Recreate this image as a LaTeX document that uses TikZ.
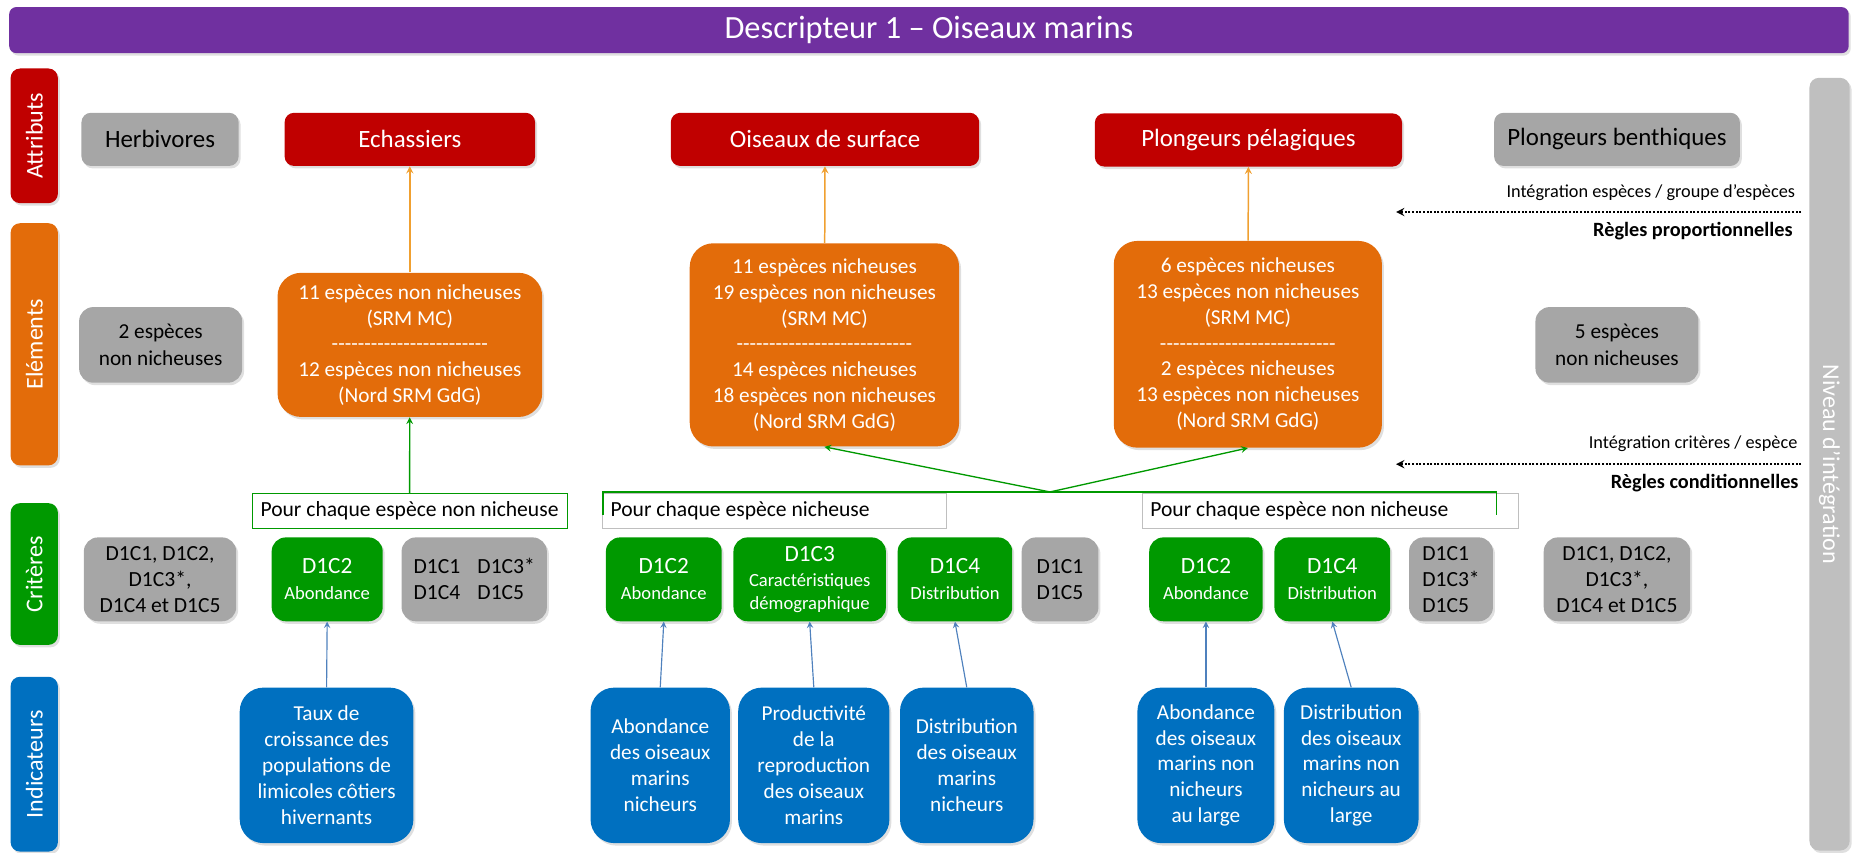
\documentclass[tikz,border=0pt]{standalone}
\usepackage{fontspec}
\setmainfont{Carlito}[Ligatures=TeXOff]
\usetikzlibrary{arrows, shadows}

\definecolor{titlepurple}{HTML}{7030A0}
\definecolor{attrred}{HTML}{C00000}
\definecolor{elemorange}{HTML}{E36C0A}
\definecolor{critgreen}{HTML}{009900}
\definecolor{indicblue}{HTML}{0070C0}
\definecolor{boxgray}{HTML}{A6A6A6}
\definecolor{bargray}{HTML}{BFBFBF}
\definecolor{linkorange}{HTML}{F0A030}
\definecolor{linkblue}{HTML}{4F81BD}

\newcommand{\subcrit}{\fontsize{11.2}{13.5}\selectfont}

\tikzstyle{shadowed} = [drop shadow={opacity=0.25, shadow xshift=1.2pt, shadow yshift=-1.5pt}]
\tikzstyle{rowlabel} = [rectangle, rounded corners=0.2cm, rotate=90, minimum height=1cm, text=white, font=\fontsize{14.5}{17}\selectfont, shadowed]
\tikzstyle{attribute} = [rectangle, rounded corners=0.2cm, minimum height=1.125cm, text centered, draw=none, fill=attrred, text=white, font=\fontsize{15}{18}\selectfont, shadowed]
\tikzstyle{attrgray} = [attribute, fill=boxgray, text=black]
\tikzstyle{element} = [rectangle, rounded corners=0.5cm, align=center, fill=elemorange, text=white, font=\fontsize{12.8}{15.5}\selectfont, shadowed]
\tikzstyle{elemgray} = [rectangle, rounded corners=0.3cm, align=center, minimum width=3.45cm, minimum height=1.6cm, fill=boxgray, text=black, font=\fontsize{12.8}{15.8}\selectfont, shadowed]
\tikzstyle{foreach} = [rectangle, draw=bargray, fill=white, minimum height=0.725cm, inner xsep=5pt, inner ysep=0pt, font=\fontsize{13}{15}\selectfont]
\tikzstyle{criterion} = [rectangle, rounded corners=0.3cm, align=center, minimum height=1.775cm, fill=critgreen, text=white, font=\fontsize{14}{15.6}\selectfont, shadowed]
\tikzstyle{critgray} = [criterion, fill=boxgray, text=black, font=\fontsize{13}{15.6}\selectfont]
\tikzstyle{indicator} = [rectangle, rounded corners=0.5cm, align=center, minimum height=3.29cm, fill=indicblue, text=white, font=\fontsize{12.8}{15.6}\selectfont, shadowed]
\tikzstyle{sidelabel} = [anchor=east, inner sep=0pt, font=\fontsize{11}{13}\selectfont]
\tikzstyle{rulelabel} = [anchor=east, inner sep=0pt, font=\fontsize{12.2}{14}\selectfont\bfseries]
\tikzstyle{orangearrow} = [draw=linkorange, line width=0.9pt, ->, >=stealth]
\tikzstyle{greenline} = [draw=critgreen, line width=0.8pt]
\tikzstyle{greenarrow} = [greenline, ->, >=stealth]
\tikzstyle{bluearrow} = [draw=linkblue, line width=0.7pt, ->, >=stealth]
\tikzstyle{dotarrow} = [densely dotted, line width=1.2pt, ->, >=stealth]

\begin{document}
\begin{tikzpicture}[x=0.025cm, y=-0.025cm]
        \useasboundingbox (0,0) rectangle (1568,722);

        \node (title) [rectangle, rounded corners=0.15cm, fill=titlepurple, text=white, minimum width=38.925cm, minimum height=0.975cm, font=\fontsize{19.5}{22}\selectfont, shadowed] at (786.5,25.5) {Descripteur 1 – Oiseaux marins};

        \node (rowAttr) [rowlabel, fill=attrred, minimum width=2.85cm] at (29,115) {Attributs};
        \node (rowElem) [rowlabel, fill=elemorange, minimum width=5.125cm] at (29,291.5) {Eléments};
        \node (rowCrit) [rowlabel, fill=critgreen, minimum width=3cm] at (29,486) {Critères};
        \node (rowIndic) [rowlabel, fill=indicblue, minimum width=3.7cm] at (29,647) {Indicateurs};
        \node (level) [rowlabel, rotate=180, fill=bargray, minimum width=16.35cm, minimum height=0.85cm, drop shadow={opacity=0}] at (1549,393) {Niveau d’intégration};

        % attributs
        \node (herb) [attrgray, minimum width=3.325cm] at (135.5,118) {Herbivores};
        \node (echass) [attribute, minimum width=5.3cm] at (347,118) {Echassiers};
        \node (surf) [attribute, minimum width=6.525cm] at (698.5,118) {Oiseaux de surface};
        \node (pelag) [attribute, minimum width=6.5cm] at (1057,118.5) {Plongeurs pélagiques};
        \node (benth) [attrgray, minimum width=5.2cm] at (1369,118) {Plongeurs benthiques};

        % elements
        \node (elHerb) [elemgray] at (136,292) {2 espèces\\non nicheuses};
        \node (elEch) [element, minimum width=5.6cm, minimum height=3.05cm] at (347,292) {11 espèces non nicheuses\\(SRM MC)\\------------------------\\12 espèces non nicheuses\\(Nord SRM GdG)};
        \node (elSurf) [element, minimum width=5.7cm, minimum height=4.3cm] at (698,292) {11 espèces nicheuses\\19 espèces non nicheuses\\(SRM MC)\\---------------------------\\14 espèces nicheuses\\18 espèces non nicheuses\\(Nord SRM GdG)};
        \node (elPel) [element, minimum width=5.675cm, minimum height=4.375cm] at (1056.5,291.5) {6 espèces nicheuses\\13 espèces non nicheuses\\(SRM MC)\\---------------------------\\2 espèces nicheuses\\13 espèces non nicheuses\\(Nord SRM GdG)};
        \node (elBenth) [elemgray] at (1369,292) {5 espèces\\non nicheuses};

        \draw [orangearrow] (elEch) -- (echass);
        \draw [orangearrow] (elSurf) -- (surf);
        \draw [orangearrow] (elPel) -- (pelag);

        \node (pourEch) [foreach, draw=critgreen, minimum width=6.51cm] at (346.75,432.5) {Pour chaque espèce non nicheuse};
        \node (pourNich) [foreach, text width=6.925cm, align=flush left] at (655.5,432.5) {Pour chaque espèce nicheuse};
        \node (pourNon) [foreach, text width=7.6cm, align=flush left] at (1126,432.5) {Pour chaque espèce non nicheuse};

        \coordinate (brL) at (510.5,436);
        \coordinate (apex) at (889,416.5);
        \coordinate (brR) at (1267,436);
        \draw [greenline] (brL) |- (apex) -| (brR);
        \draw [greenarrow] (pourEch) -- (elEch);
        \draw [greenarrow] (apex) -- (elSurf.south);
        \draw [greenarrow] (apex) -- (elPel.south);

        % criteres
        \node (cHerb) [critgray, minimum width=3.225cm] at (135.5,490.5) {D1C1, D1C2,\\D1C3*,\\D1C4 et D1C5};
        \node (cEchAb) [criterion, minimum width=2.35cm] at (277,490.5) {D1C2\\{\subcrit Abondance}};
        \node (cEchRest) [critgray, minimum width=3.075cm, align=left] at (401.5,490.5) {D1C1\hspace{0.8em}D1C3*\\D1C4\hspace{0.8em}D1C5};
        \node (cSurfAb) [criterion, minimum width=2.45cm] at (562,490.5) {D1C2\\{\subcrit Abondance}};
        \node (cSurfDem) [criterion, minimum width=3.225cm] at (685.5,490.5) {D1C3\\{\subcrit Caractéristiques}\\[-2pt]{\subcrit démographique}};
        \node (cSurfDist) [criterion, minimum width=2.425cm] at (808.5,490.5) {D1C4\\{\subcrit Distribution}};
        \node (cSurfRest) [critgray, minimum width=1.625cm, align=left] at (897.5,490.5) {D1C1\\D1C5};
        \node (cPelAb) [criterion, minimum width=2.4cm] at (1021,490.5) {D1C2\\{\subcrit Abondance}};
        \node (cPelDist) [criterion, minimum width=2.45cm] at (1128,490.5) {D1C4\\{\subcrit Distribution}};
        \node (cPelRest) [critgray, minimum width=1.775cm, align=left] at (1228.5,490.5) {D1C1\\D1C3*\\D1C5};
        \node (cBenth) [critgray, minimum width=3.1cm] at (1369,490.5) {D1C1, D1C2,\\D1C3*,\\D1C4 et D1C5};

        % indicateurs
        \node (iTaux) [indicator, minimum width=3.675cm] at (276.5,648) {Taux de\\croissance des\\populations de\\limicoles côtiers\\hivernants};
        \node (iAbNich) [indicator, minimum width=2.95cm] at (559,648) {Abondance\\des oiseaux\\marins\\nicheurs};
        \node (iProd) [indicator, minimum width=3.2cm] at (689,648) {Productivité\\de la\\reproduction\\des oiseaux\\marins};
        \node (iDistNich) [indicator, minimum width=2.825cm] at (818.5,648) {Distribution\\des oiseaux\\marins\\nicheurs};
        \node (iAbLarge) [indicator, minimum width=2.9cm] at (1021,648) {Abondance\\des oiseaux\\marins non\\nicheurs\\au large};
        \node (iDistLarge) [indicator, minimum width=2.85cm] at (1144,648) {Distribution\\des oiseaux\\marins non\\nicheurs au\\large};

        \draw [bluearrow] (iTaux.north) -- (cEchAb.south);
        \draw [bluearrow] (iAbNich.north) -- (cSurfAb.south);
        \draw [bluearrow] (iProd.north) -- (cSurfDem.south);
        \draw [bluearrow] (iDistNich.north) -- (cSurfDist.south);
        \draw [bluearrow] (iAbLarge.north) -- (cPelAb.south);
        \draw [bluearrow] (iDistLarge.north) -- (cPelDist.south);

        % regles
        \coordinate (propStart) at (1525,179.5);
        \coordinate (propEnd) at (1182,179.5);
        \draw [dotarrow] (propStart) -- (propEnd);
        \node (propTxt) [sidelabel] at (1520,163.5) {Intégration espèces / groupe d’espèces};
        \node (propRule) [rulelabel] at (1518,196) {Règles proportionnelles};

        \coordinate (condStart) at (1525,393);
        \coordinate (condEnd) at (1182,393);
        \draw [dotarrow] (condStart) -- (condEnd);
        \node (condTxt) [sidelabel] at (1522,376) {Intégration critères / espèce};
        \node (condRule) [rulelabel] at (1523,409) {Règles conditionnelles};
\end{tikzpicture}
\end{document}
